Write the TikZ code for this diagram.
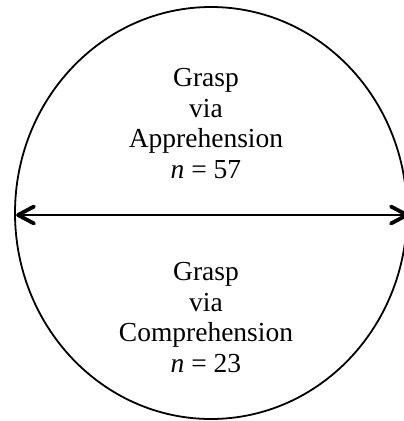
\documentclass[tikz,border=0pt]{standalone}
\usepackage{fontspec}
\setmainfont{Liberation Serif}
\usetikzlibrary{shapes.geometric}
\tikzset{
  lbl/.style={align=center, inner sep=0pt, font=\fontsize{27.5}{30.5}\selectfont},
  shaft/.style={line width=2pt},
  barbhead/.style={line width=3.8pt, line cap=round, line join=round}
}
\begin{document}
\begin{tikzpicture}[x=1pt,y=-1pt]
\useasboundingbox (0,0) rectangle (404,421);
\begin{scope}
\clip (0,0) rectangle (404,421);
\node[draw, ellipse, line width=1.8pt, minimum width=392pt, minimum height=412pt, inner sep=0pt] (E) at (211,213) {};
\coordinate (L) at (18,215);
\coordinate (R) at (407,215);
\draw[shaft] (L) -- (R);
\draw[barbhead] ([shift={(16,-8.5)}]L) -- (L) -- ([shift={(16,8.5)}]L);
\draw[barbhead] ([shift={(-16,-8.5)}]R) -- (R) -- ([shift={(-16,8.5)}]R);
\end{scope}
\node[lbl, anchor=base] (A) at (206,178) {Grasp\\via\\Apprehension\\\textit{n} = 57};
\node[lbl, anchor=base] (C) at (206,372) {Grasp\\via\\Comprehension\\\textit{n} = 23};
\end{tikzpicture}
\end{document}
